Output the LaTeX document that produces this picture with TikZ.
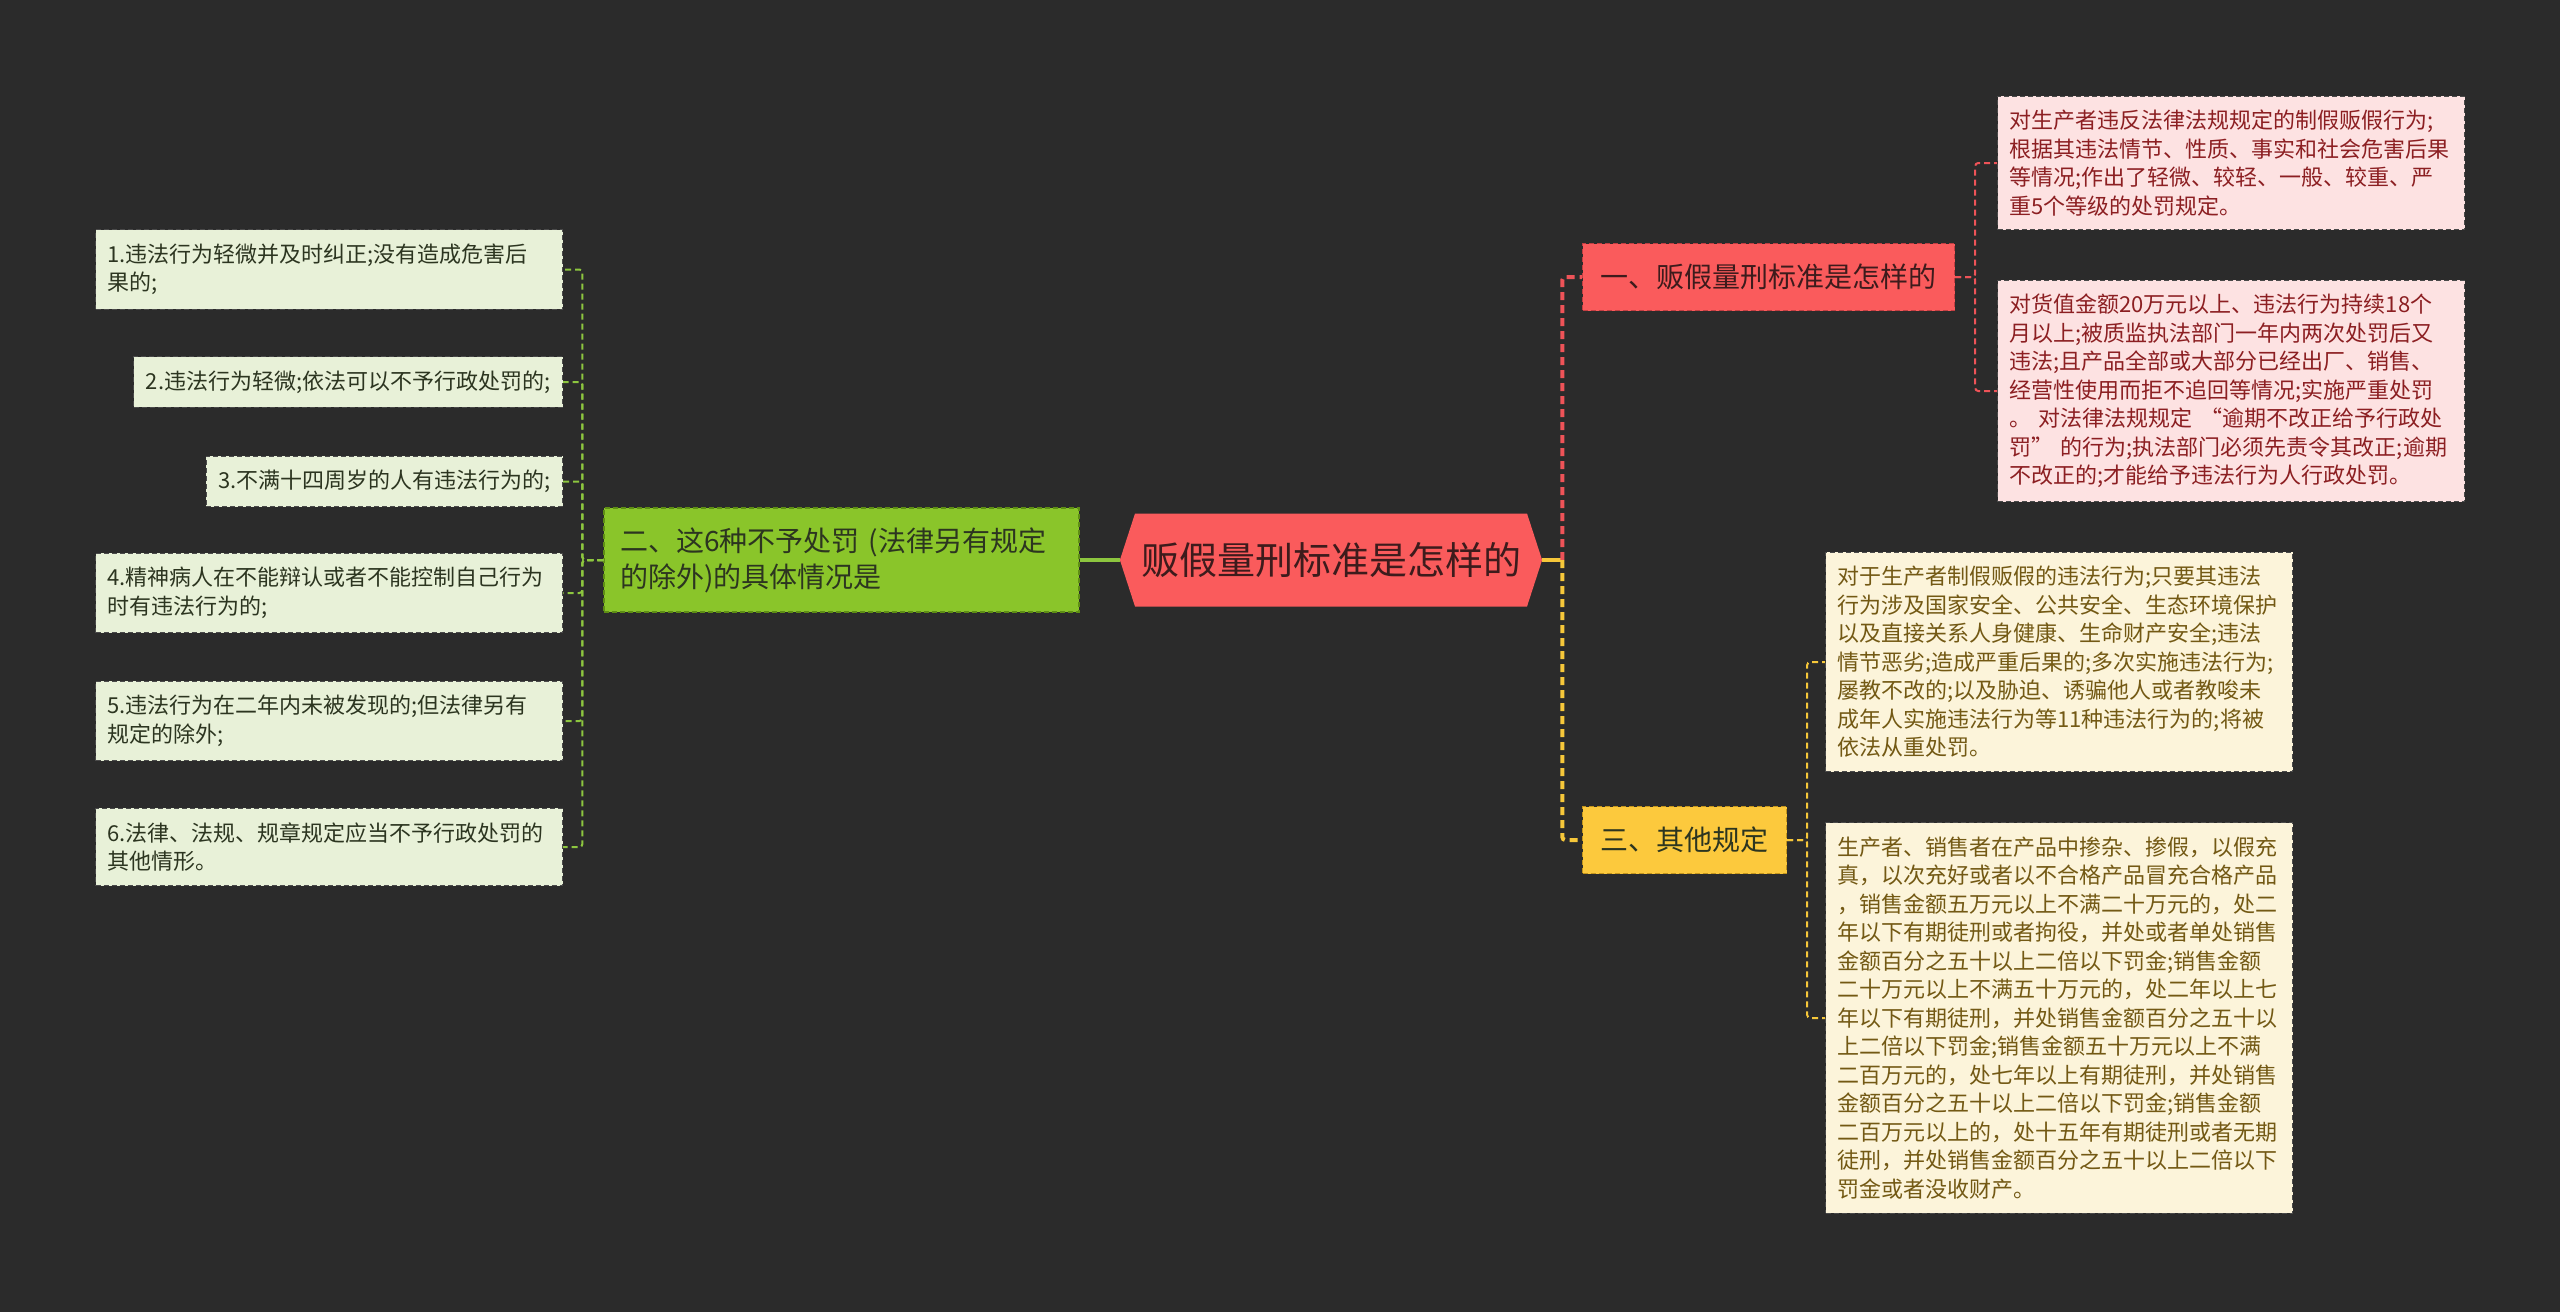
\documentclass[tikz,border=0pt]{standalone}
\usepackage{fontspec}
\setmainfont{Noto Sans CJK SC}
\usetikzlibrary{shapes.symbols,calc}
\definecolor{canvas}{HTML}{2B2B2B}
\definecolor{rootred}{HTML}{FA5B5C}
\definecolor{roottext}{HTML}{3D1B1C}
\definecolor{topicred}{HTML}{FA5B5C}
\definecolor{topicredline}{HTML}{C23E42}
\definecolor{topicyel}{HTML}{FCC93D}
\definecolor{topicyelline}{HTML}{C4951C}
\definecolor{topicgreen}{HTML}{8AC52A}
\definecolor{topicgreenline}{HTML}{5E8E14}
\definecolor{leafgreen}{HTML}{E8F1D8}
\definecolor{leafpink}{HTML}{FDE2E2}
\definecolor{leafcream}{HTML}{FCF4DA}
\definecolor{leafline}{HTML}{4A4A4A}
\definecolor{darktext}{HTML}{2C3520}
\definecolor{pinktext}{HTML}{8C1F22}
\definecolor{creamtext}{HTML}{735914}
\definecolor{linkgreen}{HTML}{8DC63F}
\definecolor{linkred}{HTML}{EE5358}
\definecolor{linkyel}{HTML}{F6C73A}

\begin{document}
\begin{tikzpicture}[x=1pt,y=-1pt,
  hub/.style={shape=signal, signal to=west and east, signal pointer angle=144,
    fill=rootred, text=roottext, font=\fontsize{38}{44}\selectfont,
    inner xsep=6pt, minimum height=93pt},
  topic/.style={draw, dash pattern=on 5pt off 3pt, line width=1.2pt,
    font=\fontsize{28}{36}\selectfont, inner xsep=18pt, minimum height=67pt},
  leaf/.style={draw=leafline, dash pattern=on 5pt off 3pt, line width=1pt,
    font=\fontsize{22}{28.5}\selectfont, align=left, inner xsep=12pt, inner ysep=14pt},
  wide/.style={text width=443pt},
  mainlink/.style={line width=4pt, dash pattern=on 8pt off 5pt, rounded corners=3pt},
  sublink/.style={line width=2pt, dash pattern=on 6pt off 4pt, rounded corners=3pt}]

  % canvas
  \fill[canvas] (0,0) rectangle (2560,1312);
  \useasboundingbox (0,0) rectangle (2560,1312);

  % centre
  \node[hub] (root) at (1331,560) {贩假量刑标准是怎样的};

  % main topics
  \node[topic, draw=topicgreenline, fill=topicgreen, text=darktext, text width=443pt,
    align=left, inner xsep=16pt, minimum height=104pt] (two) at (841.5,560)
    {二、这6种不予处罚 (法律另有规定\\的除外)的具体情况是};
  \node[topic, draw=topicredline, fill=topicred, text=roottext, anchor=west] (one) at (1582,277)
    {一、贩假量刑标准是怎样的};
  \node[topic, draw=topicyelline, fill=topicyel, text=darktext, anchor=west] (three) at (1582,840)
    {三、其他规定};

  % leaves of one
  \node[leaf, wide, fill=leafpink, text=pinktext, anchor=west] (a1) at (1997,163)
    {对生产者违反法律法规规定的制假贩假行为;\\根据其违法情节、性质、事实和社会危害后果\\等情况;作出了轻微、较轻、一般、较重、严\\重5个等级的处罚规定。};
  \node[leaf, wide, fill=leafpink, text=pinktext, anchor=west] (a2) at (1997,391)
    {对货值金额20万元以上、违法行为持续18个\\月以上;被质监执法部门一年内两次处罚后又\\违法;且产品全部或大部分已经出厂、销售、\\经营性使用而拒不追回等情况;实施严重处罚\\。 对法律法规规定 “逾期不改正给予行政处\\罚” 的行为;执法部门必须先责令其改正;逾期\\不改正的;才能给予违法行为人行政处罚。};

  % leaves of three
  \node[leaf, wide, fill=leafcream, text=creamtext, anchor=west] (c1) at (1825,662)
    {对于生产者制假贩假的违法行为;只要其违法\\行为涉及国家安全、公共安全、生态环境保护\\以及直接关系人身健康、生命财产安全;违法\\情节恶劣;造成严重后果的;多次实施违法行为;\\屡教不改的;以及胁迫、诱骗他人或者教唆未\\成年人实施违法行为等11种违法行为的;将被\\依法从重处罚。};
  \node[leaf, wide, fill=leafcream, text=creamtext, anchor=west] (c2) at (1825,1018)
    {生产者、销售者在产品中掺杂、掺假，以假充\\真，以次充好或者以不合格产品冒充合格产品\\，销售金额五万元以上不满二十万元的，处二\\年以下有期徒刑或者拘役，并处或者单处销售\\金额百分之五十以上二倍以下罚金;销售金额\\二十万元以上不满五十万元的，处二年以上七\\年以下有期徒刑，并处销售金额百分之五十以\\上二倍以下罚金;销售金额五十万元以上不满\\二百万元的，处七年以上有期徒刑，并处销售\\金额百分之五十以上二倍以下罚金;销售金额\\二百万元以上的，处十五年有期徒刑或者无期\\徒刑，并处销售金额百分之五十以上二倍以下\\罚金或者没收财产。};

  % leaves of two
  \node[leaf, wide, fill=leafgreen, text=darktext, anchor=east] (s1) at (563,269.5)
    {1.违法行为轻微并及时纠正;没有造成危害后\\果的;};
  \node[leaf, fill=leafgreen, text=darktext, anchor=east] (s2) at (563,382)
    {2.违法行为轻微;依法可以不予行政处罚的;};
  \node[leaf, fill=leafgreen, text=darktext, anchor=east] (s3) at (563,481.5)
    {3.不满十四周岁的人有违法行为的;};
  \node[leaf, wide, fill=leafgreen, text=darktext, anchor=east] (s4) at (563,593)
    {4.精神病人在不能辩认或者不能控制自己行为\\时有违法行为的;};
  \node[leaf, wide, fill=leafgreen, text=darktext, anchor=east] (s5) at (563,721)
    {5.违法行为在二年内未被发现的;但法律另有\\规定的除外;};
  \node[leaf, wide, fill=leafgreen, text=darktext, anchor=east] (s6) at (563,847)
    {6.法律、法规、规章规定应当不予行政处罚的\\其他情形。};

  % links from the centre
  \coordinate (rbus) at ($(root.east)+(20,0)$);
  \draw[linkgreen, line width=4pt] (two.east) -- (root.west);
  \draw[linkyel, line width=4pt] (root.east) -- (rbus);
  \draw[linkred, mainlink] (rbus) |- (one.west);
  \draw[linkyel, mainlink] (rbus) |- (three.west);

  % links to the leaves
  \foreach \leaf in {a1,a2}
    \draw[linkred, sublink] (one.east) -- ++(20,0) |- (\leaf.west);
  \foreach \leaf in {c1,c2}
    \draw[linkyel, sublink] (three.east) -- ++(20,0) |- (\leaf.west);
  \foreach \leaf in {s1,s2,s3,s4,s5,s6}
    \draw[linkgreen, sublink] (two.west) -- ++(-21,0) |- (\leaf.east);
\end{tikzpicture}
\end{document}
